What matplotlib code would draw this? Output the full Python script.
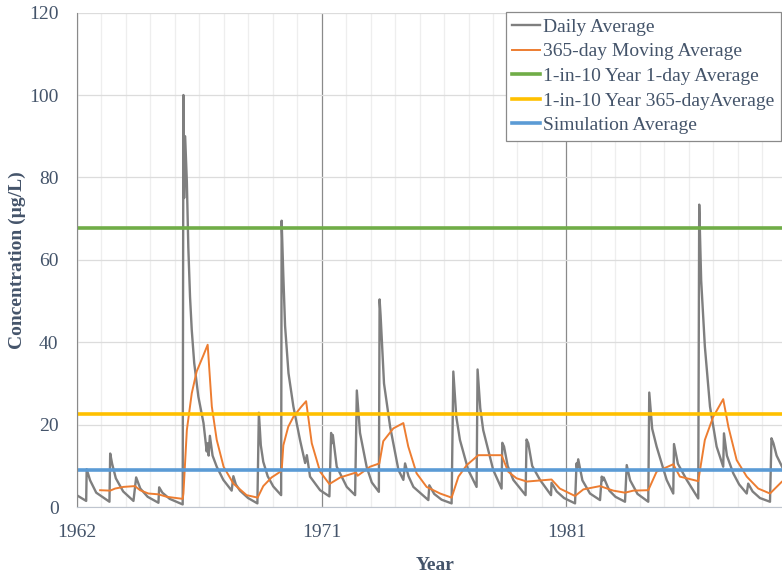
import datetime as dt
import matplotlib
matplotlib.use("Agg")
import matplotlib.pyplot as plt
from matplotlib.ticker import MultipleLocator, FuncFormatter

plt.rcParams['font.family'] = ['Liberation Serif', 'DejaVu Serif']

# years elapsed since 1962-01-01 (365-day years) and concentration in ug/L
daily_yr = [0.00, 0.39, 0.41, 0.55, 0.80, 1.34,
            1.37, 1.45, 1.60, 1.90, 2.32,
            2.43, 2.60, 2.90, 3.34,
            3.37, 3.50, 3.80, 4.33,
            4.36, 4.39, 4.43, 4.50, 4.56, 4.63, 4.70, 4.80, 4.97, 5.18, 5.31,
            5.35, 5.39, 5.44, 5.55, 5.72, 5.99, 6.33, 6.40, 6.50, 6.67, 7.00, 7.38,
            7.44, 7.52, 7.62, 7.80, 8.03, 8.35,
            8.37, 8.44, 8.51, 8.65, 8.85, 9.12, 9.33,
            9.40, 9.53, 9.94, 10.32,
            10.39, 10.42, 10.46, 10.62, 11.03, 11.37,
            11.44, 11.57, 11.84, 12.05, 12.34,
            12.37, 12.41, 12.55, 12.80, 13.14, 13.34,
            13.41, 13.55, 13.75, 14.36,
            14.40, 14.60, 14.90, 15.31,
            15.38, 15.50, 15.65, 15.99, 16.33,
            16.37, 16.48, 16.60, 17.01, 17.35,
            17.38, 17.45, 17.60, 17.83, 18.33,
            18.37, 18.44, 18.60, 18.92, 19.37,
            19.39, 19.60, 19.90, 20.35,
            20.41, 20.44, 20.48, 20.65, 20.96, 21.37,
            21.44, 21.48, 21.52, 21.75, 22.00, 22.39,
            22.46, 22.60, 22.90, 23.34,
            23.38, 23.50, 23.68, 24.09, 24.36,
            24.39, 24.55, 24.91, 25.38,
            25.42, 25.50, 25.65, 25.86, 26.13, 26.40,
            26.43, 26.55, 26.81, 27.05, 27.36,
            27.42, 27.60, 27.90, 28.31,
            28.37, 28.45, 28.58, 28.80, 29.00]
daily_val = [2.9, 1.5, 9.2, 6.5, 3.5, 1.3,
             13.0, 10.5, 7.0, 3.8, 1.5,
             7.2, 4.5, 2.5, 1.05,
             4.8, 3.5, 2.0, 0.65,
             100.0, 75.0, 90.0, 79.0, 63.0, 51.0, 43.0, 35.0, 26.8, 20.4, 13.5,
             15.5, 12.5, 17.3, 12.5, 9.8, 6.6, 4.0, 7.5, 5.5, 4.0, 2.2, 0.9,
             22.9, 15.0, 11.0, 7.5, 5.0, 2.9,
             69.5, 56.0, 44.0, 32.5, 24.4, 16.3, 10.7,
             12.6, 7.4, 4.1, 2.6,
             18.0, 15.5, 17.5, 9.8, 4.9, 2.9,
             28.3, 18.0, 9.8, 6.0, 3.7,
             50.4, 46.6, 30.0, 19.5, 9.0, 6.6,
             10.6, 7.5, 4.9, 1.7,
             5.3, 3.2, 1.8, 0.9,
             32.9, 22.0, 16.3, 9.0, 4.9,
             33.4, 24.0, 18.7, 9.0, 4.5,
             15.6, 14.7, 10.0, 6.6, 2.9,
             16.4, 15.5, 10.0, 6.6, 2.9,
             5.9, 3.8, 2.2, 0.9,
             10.6, 9.5, 11.6, 6.5, 3.3, 1.7,
             7.4, 6.5, 7.2, 4.0, 2.5, 1.3,
             10.2, 6.5, 3.2, 1.3,
             27.8, 19.0, 14.7, 6.6, 3.3,
             15.3, 10.5, 6.6, 2.1,
             73.4, 55.0, 39.0, 24.4, 14.7, 9.8,
             17.9, 12.5, 8.2, 5.5, 3.3,
             5.7, 3.8, 2.2, 1.3,
             16.7, 15.5, 12.5, 9.8, 7.5]

mavg_yr = [0.96, 1.37, 1.57, 1.91, 2.38, 2.59, 2.93, 3.34, 3.68, 4.33,
           4.36, 4.50, 4.70, 4.90, 5.18, 5.35,
           5.52, 5.72, 6.00, 6.40, 6.94, 7.39,
           7.62, 7.96, 8.37,
           8.44, 8.64, 8.85, 9.15, 9.37,
           9.60, 9.94, 10.32,
           10.76, 11.41, 11.47, 11.98, 12.36,
           12.52, 12.93, 13.34,
           13.54, 13.88, 14.29, 14.84, 15.31,
           15.59, 15.93, 16.40, 17.35,
           17.62, 17.96, 18.38, 19.39,
           19.73, 20.35, 20.69, 21.37, 21.91, 22.39, 22.73, 23.34,
           23.68, 24.36, 24.63, 25.38,
           25.65, 25.99, 26.40,
           26.61, 26.95, 27.36, 27.83, 28.31, 28.58, 28.80, 29.00]
mavg_val = [4.1, 4.0, 4.5, 4.9, 5.1, 4.1, 3.3, 3.1, 2.5, 2.0,
            3.3, 18.7, 27.6, 32.9, 36.9, 39.4,
            24.4, 16.3, 9.8, 5.7, 2.9, 2.3,
            5.1, 7.2, 8.8,
            15.0, 19.5, 21.9, 24.2, 25.7,
            15.5, 8.6, 5.6,
            7.2, 8.4, 7.6, 9.8, 10.6,
            16.0, 19.1, 20.4,
            14.7, 8.2, 4.9, 3.3, 2.3,
            7.4, 10.2, 12.6, 12.6,
            8.6, 7.0, 6.2, 6.7,
            4.5, 2.7, 4.3, 5.1, 4.0, 3.5, 4.0, 4.1,
            8.6, 10.4, 7.4, 6.3,
            16.3, 21.9, 26.2,
            19.5, 11.4, 7.4, 4.5, 3.3, 4.9, 6.2, 6.8]

one_day_1in10 = 67.8
year365_1in10 = 22.5
sim_average = 8.9

start = dt.date(1962, 1, 1)
daily_days = [y * 365 for y in daily_yr]
mavg_days = [y * 365 for y in mavg_yr]


def year_label(x, pos):
    return str((start + dt.timedelta(days=int(round(x)))).year)


fig = plt.figure(figsize=(7.82, 5.73), dpi=100)
ax = fig.add_axes([0.098, 0.115, 0.902, 0.863])

ax.plot(daily_days, daily_val, color='#7f7f7f', lw=1.7, label='Daily Average')
ax.plot(mavg_days, mavg_val, color='#ed7d31', lw=1.4, label='365-day Moving Average')
ax.axhline(one_day_1in10, color='#70ad47', lw=2.6, label='1-in-10 Year 1-day Average')
ax.axhline(year365_1in10, color='#ffc000', lw=2.6, label='1-in-10 Year 365-dayAverage')
ax.axhline(sim_average, color='#5b9bd5', lw=2.6, label='Simulation Average')

ax.set_xlim(0, 10512)
ax.set_ylim(0, 120)
ax.xaxis.set_major_locator(MultipleLocator(3650))
ax.xaxis.set_minor_locator(MultipleLocator(365))
ax.xaxis.set_major_formatter(FuncFormatter(year_label))
ax.yaxis.set_major_locator(MultipleLocator(20))

ax.set_axisbelow(True)
ax.grid(which='major', axis='y', color='#dcdcdc', lw=0.9)
ax.grid(which='minor', axis='x', color='#eeeeee', lw=0.9)
ax.grid(which='major', axis='x', color='#8a8a8a', lw=0.9)

for s in ['top', 'right']:
    ax.spines[s].set_visible(False)
ax.spines['left'].set_color('#8a8a8a')
ax.spines['bottom'].set_color('#bfc5cf')

ax.tick_params(which='both', length=0, labelsize=14, labelcolor='#44546a')
ax.tick_params(axis='x', pad=12)
ax.tick_params(axis='y', pad=13)

ax.set_ylabel('Concentration (\u00b5g/L)', fontsize=14, fontweight='bold', color='#44546a')
ax.yaxis.set_label_coords(-0.072, 0.5)
ax.set_xlabel('Year', fontsize=14, fontweight='bold', color='#44546a')
ax.xaxis.set_label_coords(0.508, -0.1)

leg = ax.legend(loc='upper left', bbox_to_anchor=(505.5 / 782, 1 - 12 / 573),
                bbox_transform=fig.transFigure, fontsize=14, fancybox=False,
                framealpha=1, edgecolor='#8a8a8a', handlelength=1.45,
                handletextpad=0.18, labelspacing=0.36, borderpad=0.32,
                borderaxespad=0)
leg.get_frame().set_linewidth(0.9)
for t in leg.get_texts():
    t.set_color('#44546a')

fig.savefig('out.png', dpi=100)
